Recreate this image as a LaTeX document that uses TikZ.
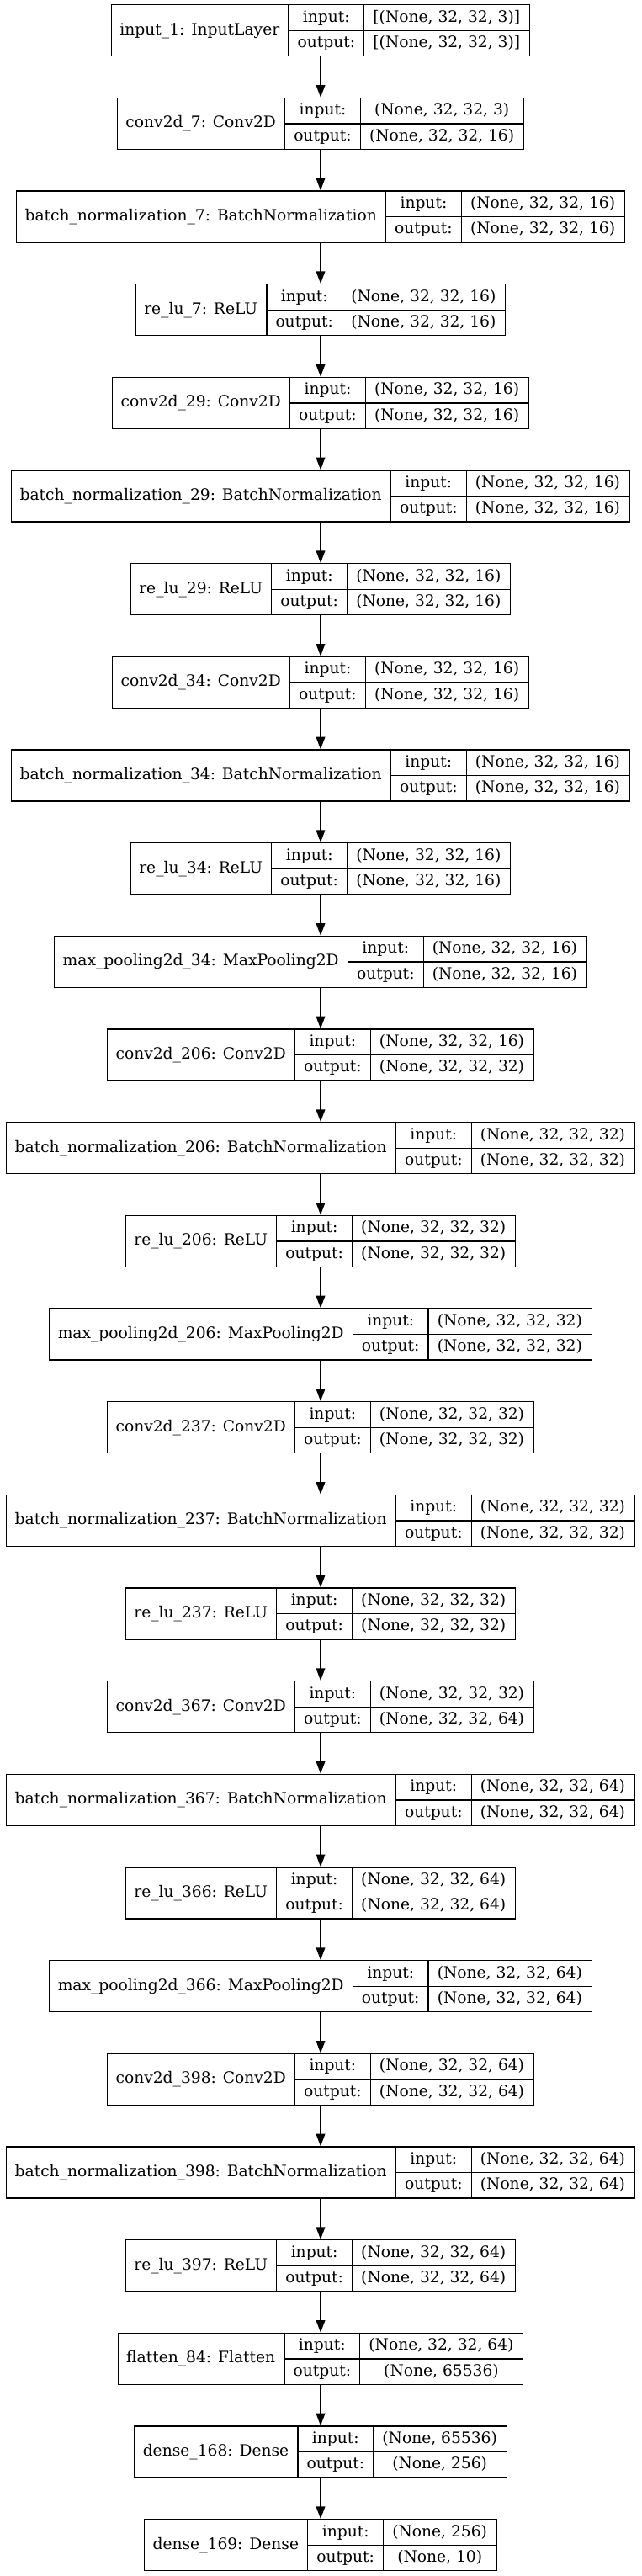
\documentclass[tikz,border=0pt]{standalone}
\usepackage{fontspec}
\setmainfont{DejaVu Serif}
\usetikzlibrary{arrows.meta}
\newlength\Lwn \newlength\Lwl \newlength\Lwv \newlength\Lwt
\newcommand\lf{\fontsize{14pt}{16pt}\selectfont}
\tikzset{
  lbox/.style={draw=black, line width=1pt, rectangle, inner sep=0pt, minimum height=45.75pt},
  lline/.style={draw=black, line width=1pt},
  ltxt/.style={inner sep=0pt, anchor=base, font=\lf},
  arr/.style={draw=black, line width=1pt, -{Triangle[length=11pt,width=8pt]}}
}
% #1 id, #2 index (1..28), #3 name, #4 input, #5 output
\newcommand\layerbox[5]{%
  \pgfinterruptpicture
  \settowidth\Lwn{\lf #3}\global\advance\Lwn by 16pt \global\Lwn=\Lwn
  \settowidth\Lwl{\lf output:}\global\advance\Lwl by 16pt \global\Lwl=\Lwl
  \settowidth\Lwv{\lf #4}\settowidth\Lwt{\lf #5}%
  \ifdim\Lwt>\Lwv \Lwv=\Lwt\fi\global\advance\Lwv by 16pt \global\Lwv=\Lwv
  \endpgfinterruptpicture
  \pgfmathsetmacro\Ltw{\Lwn+\Lwl+\Lwv}%
  \pgfmathsetmacro\Lcy{-(5.7+(#2-1)*110.667+30.5)*0.75}%
  \node[lbox, minimum width=\Ltw pt] (#1) at (285.75pt,\Lcy pt) {};
  \draw[lline] ([xshift=\Lwn]#1.north west) -- ([xshift=\Lwn]#1.south west);
  \draw[lline] ([xshift=\Lwn+\Lwl]#1.north west) -- ([xshift=\Lwn+\Lwl]#1.south west);
  \draw[lline] ([xshift=\Lwn]#1.west) -- (#1.east);
  \node[ltxt] (#1name) at ([xshift=\Lwn/2, yshift=-27pt]#1.north west) {#3};
  \node[ltxt] (#1inl) at ([xshift=\Lwn+\Lwl/2, yshift=-15.75pt]#1.north west) {input:};
  \node[ltxt] (#1outl) at ([xshift=\Lwn+\Lwl/2, yshift=-38.6pt]#1.north west) {output:};
  \node[ltxt] (#1inv) at ([xshift=\Lwn+\Lwl+\Lwv/2, yshift=-15.75pt]#1.north west) {#4};
  \node[ltxt] (#1outv) at ([xshift=\Lwn+\Lwl+\Lwv/2, yshift=-38.6pt]#1.north west) {#5};
}
\begin{document}
\begin{tikzpicture}
\useasboundingbox[fill=white] (0,0) rectangle (572.25pt,-2295.75pt);
\layerbox{L1}{1}{input\_1: InputLayer}{[(None, 32, 32, 3)]}{[(None, 32, 32, 3)]}
\layerbox{L2}{2}{conv2d\_7: Conv2D}{(None, 32, 32, 3)}{(None, 32, 32, 16)}
\layerbox{L3}{3}{batch\_normalization\_7: BatchNormalization}{(None, 32, 32, 16)}{(None, 32, 32, 16)}
\layerbox{L4}{4}{re\_lu\_7: ReLU}{(None, 32, 32, 16)}{(None, 32, 32, 16)}
\layerbox{L5}{5}{conv2d\_29: Conv2D}{(None, 32, 32, 16)}{(None, 32, 32, 16)}
\layerbox{L6}{6}{batch\_normalization\_29: BatchNormalization}{(None, 32, 32, 16)}{(None, 32, 32, 16)}
\layerbox{L7}{7}{re\_lu\_29: ReLU}{(None, 32, 32, 16)}{(None, 32, 32, 16)}
\layerbox{L8}{8}{conv2d\_34: Conv2D}{(None, 32, 32, 16)}{(None, 32, 32, 16)}
\layerbox{L9}{9}{batch\_normalization\_34: BatchNormalization}{(None, 32, 32, 16)}{(None, 32, 32, 16)}
\layerbox{L10}{10}{re\_lu\_34: ReLU}{(None, 32, 32, 16)}{(None, 32, 32, 16)}
\layerbox{L11}{11}{max\_pooling2d\_34: MaxPooling2D}{(None, 32, 32, 16)}{(None, 32, 32, 16)}
\layerbox{L12}{12}{conv2d\_206: Conv2D}{(None, 32, 32, 16)}{(None, 32, 32, 32)}
\layerbox{L13}{13}{batch\_normalization\_206: BatchNormalization}{(None, 32, 32, 32)}{(None, 32, 32, 32)}
\layerbox{L14}{14}{re\_lu\_206: ReLU}{(None, 32, 32, 32)}{(None, 32, 32, 32)}
\layerbox{L15}{15}{max\_pooling2d\_206: MaxPooling2D}{(None, 32, 32, 32)}{(None, 32, 32, 32)}
\layerbox{L16}{16}{conv2d\_237: Conv2D}{(None, 32, 32, 32)}{(None, 32, 32, 32)}
\layerbox{L17}{17}{batch\_normalization\_237: BatchNormalization}{(None, 32, 32, 32)}{(None, 32, 32, 32)}
\layerbox{L18}{18}{re\_lu\_237: ReLU}{(None, 32, 32, 32)}{(None, 32, 32, 32)}
\layerbox{L19}{19}{conv2d\_367: Conv2D}{(None, 32, 32, 32)}{(None, 32, 32, 64)}
\layerbox{L20}{20}{batch\_normalization\_367: BatchNormalization}{(None, 32, 32, 64)}{(None, 32, 32, 64)}
\layerbox{L21}{21}{re\_lu\_366: ReLU}{(None, 32, 32, 64)}{(None, 32, 32, 64)}
\layerbox{L22}{22}{max\_pooling2d\_366: MaxPooling2D}{(None, 32, 32, 64)}{(None, 32, 32, 64)}
\layerbox{L23}{23}{conv2d\_398: Conv2D}{(None, 32, 32, 64)}{(None, 32, 32, 64)}
\layerbox{L24}{24}{batch\_normalization\_398: BatchNormalization}{(None, 32, 32, 64)}{(None, 32, 32, 64)}
\layerbox{L25}{25}{re\_lu\_397: ReLU}{(None, 32, 32, 64)}{(None, 32, 32, 64)}
\layerbox{L26}{26}{flatten\_84: Flatten}{(None, 32, 32, 64)}{(None, 65536)}
\layerbox{L27}{27}{dense\_168: Dense}{(None, 65536)}{(None, 256)}
\layerbox{L28}{28}{dense\_169: Dense}{(None, 256)}{(None, 10)}
\foreach \a/\b in {1/2,2/3,3/4,4/5,5/6,6/7,7/8,8/9,9/10,10/11,11/12,12/13,13/14,14/15,15/16,16/17,17/18,18/19,19/20,20/21,21/22,22/23,23/24,24/25,25/26,26/27,27/28}
  \draw[arr] (L\a.south) -- (L\b.north);
\end{tikzpicture}
\end{document}
